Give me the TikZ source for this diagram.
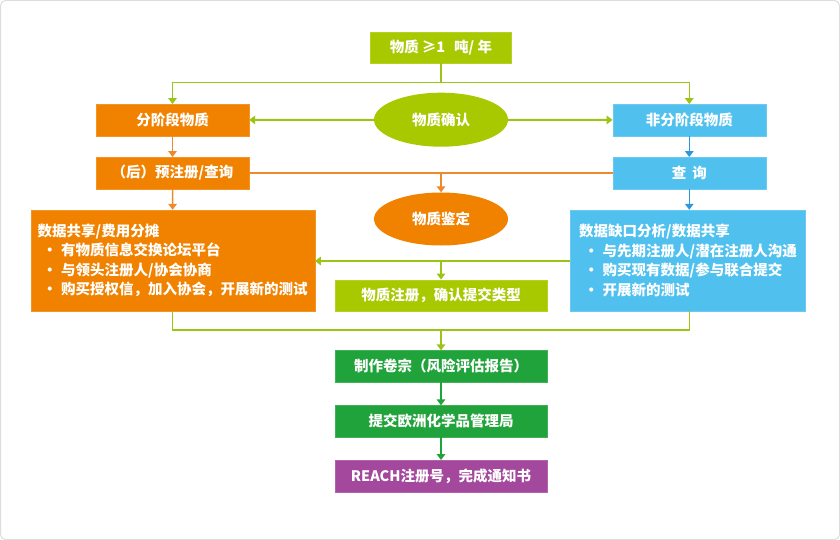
\documentclass[tikz,border=0pt]{standalone}
\usepackage{fontspec}
\setmainfont{Noto Sans CJK SC}
\usepackage{tikz}
\usetikzlibrary{arrows.meta,shapes.geometric}

\definecolor{lime}{HTML}{A8C800}
\definecolor{limeline}{HTML}{9CC414}
\definecolor{orng}{HTML}{F08200}
\definecolor{orngline}{HTML}{EE8A2C}
\definecolor{sky}{HTML}{50C1EF}
\definecolor{skyline}{HTML}{2C98DC}
\definecolor{dgreen}{HTML}{20A33A}
\definecolor{purp}{HTML}{A3489C}
\definecolor{frame}{HTML}{DDDDDD}

\tikzset{
  box/.style={rectangle, text=white, inner sep=0pt, minimum height=31.5pt,
    font=\bfseries\fontsize{14.5}{19.5}\selectfont},
  oval/.style={ellipse, text=white, inner sep=0pt, minimum width=134pt, minimum height=54pt,
    font=\bfseries\fontsize{14.5}{19.5}\selectfont},
  lst/.style={box, align=left, minimum height=101pt},
  link/.style={line width=1.5pt},
  arr/.style={link, -{Triangle[length=6pt,width=8.5pt]}},
}
\newcommand{\itm}{\hspace*{5pt}·\hspace{4pt}}

\begin{document}
\begin{tikzpicture}[x=1pt,y=-1pt]
\draw[draw=frame, fill=white, line width=1pt, rounded corners=5pt] (0.5,0.5) rectangle (839.5,539.5);

\coordinate (j1) at (441,82.5);
\coordinate (j2) at (441,173);
\coordinate (j3) at (441,261);
\coordinate (j4) at (441,330);

\node[box, fill=lime, draw=lime!85!white, minimum width=141pt] (top) at (441,47.5) {物质\hspace{3pt}≥1\hspace{9pt}吨/ 年};
\node[box, fill=orng, draw=orng!85!white, minimum width=153pt] (A) at (172.5,120) {分阶段物质};
\node[box, fill=sky, draw=sky!85!white, minimum width=153pt] (B) at (689.3,120) {非分阶段物质};
\node[oval, fill=lime] (conf) at (441,119.7) {物质确认};
\node[box, fill=orng, draw=orng!85!white, minimum width=153pt] (A2) at (172.5,173) {（后）预注册/查询};
\node[box, fill=sky, draw=sky!85!white, minimum width=153pt] (B2) at (689.3,173) {查\hspace{6pt}询};
\node[oval, fill=orng, minimum height=53pt] (ident) at (441,219) {物质鉴定};

\node[lst, fill=orng, draw=orng!85!white, minimum width=284pt] (L) at (172.7,260.5)
  {数据共享/费用分摊\\ \itm 有物质信息交换论坛平台\\ \itm 与领头注册人/协会协商\\ \itm 购买授权信，加入协会，开展新的测试};
\node[lst, fill=sky, draw=sky!85!white, minimum width=235pt] (R) at (688,260.5)
  {数据缺口分析/数据共享\\ \itm 与先期注册人/潜在注册人沟通\\ \itm 购买现有数据/参与联合提交\\ \itm 开展新的测试};

\node[box, fill=lime, draw=lime!85!white, minimum width=212pt] (reg) at (441,295.5) {物质注册，确认提交类型};
\node[box, fill=dgreen, draw=dgreen!85!white, minimum width=212pt] (dos) at (441,366.3) {制作卷宗（风险评估报告）};
\node[box, fill=dgreen, draw=dgreen!85!white, minimum width=212pt] (sub) at (441,421.3) {提交欧洲化学品管理局};
\node[box, fill=purp, draw=purp!85!white, minimum width=212pt] (reach) at (441,476) {REACH注册号，完成通知书};

\draw[link, limeline] (top) -- (j1);
\draw[arr, limeline] (j1) -| (A);
\draw[arr, limeline] (j1) -| (B);
\draw[arr, limeline, line width=2pt] (conf) -- (A);
\draw[arr, limeline, line width=2pt] (conf) -- (B);

\draw[arr, orngline] (A) -- (A2);
\draw[arr, skyline] (B) -- (B2);
\draw[link, orngline] (A2) -- (B2);
\draw[arr, orngline] (j2) -- (ident);
\draw[arr, orngline] (A2) -- (L);
\draw[arr, skyline] (B2) -- (B2 |- R.north);

\draw[arr, limeline, {Triangle[length=6pt,width=8.5pt]}-] (L.east |- j3) -- (R.west |- j3);
\draw[arr, limeline] (j3) -- (reg);
\draw[link, limeline] (L.south -| A2) |- (j4) -| (B2 |- R.south);
\draw[arr, limeline] (j4) -- (dos);

\draw[arr, dgreen] (dos) -- (sub);
\draw[arr, dgreen] (sub) -- (reach);
\end{tikzpicture}
\end{document}
